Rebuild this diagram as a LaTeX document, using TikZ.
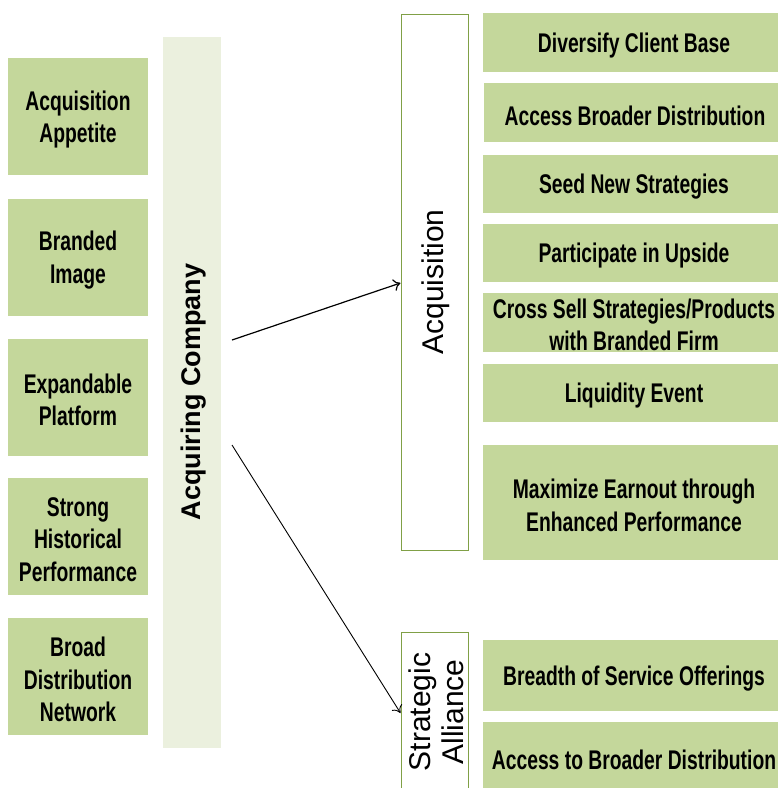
\documentclass[tikz,border=0pt]{standalone}
\usepackage{fontspec}
\setmainfont{Liberation Sans}
\newfontfamily\narrowfont{Liberation Sans}[FakeStretch=0.715]
\usetikzlibrary{arrows.meta}
\definecolor{boxgreen}{RGB}{196,215,155}
\definecolor{barfill}{RGB}{235,240,222}
\definecolor{edgegreen}{RGB}{128,160,70}
\tikzset{
  greenbox/.style={fill=boxgreen, draw=none, inner sep=0pt},
  leftbox/.style={greenbox, minimum width=140pt, minimum height=117pt},
  rightbox/.style={greenbox, minimum width=302pt},
  boxtext/.style={inner sep=0pt, align=center, yshift=-3pt,
    font=\narrowfont\bfseries\fontsize{27}{32.5}\selectfont},
  outlinebox/.style={draw=edgegreen, line width=1pt, fill=white, inner sep=0pt, minimum width=67pt},
  sidelabel/.style={rotate=90, align=center, font=\fontsize{30}{33}\selectfont},
  connector/.style={-{To[length=7pt,width=12pt]}, black},
}
\begin{document}
\begin{tikzpicture}[x=1pt, y=-1pt]
\useasboundingbox (0,0) rectangle (778,788);
\clip (0,0) rectangle (778,788);
% left column
\node[leftbox] (appetite) at (78,116.5) {};
\node[boxtext] (appetiteT) at (appetite.center) {Acquisition\\Appetite};
\node[leftbox] (image) at (78,257) {};
\node[boxtext] (imageT) at (image.center) {Branded\\Image};
\node[leftbox] (platform) at (78,397) {};
\node[boxtext] (platformT) at (platform.center) {Expandable\\Platform};
\node[leftbox] (history) at (78,536.5) {};
\node[boxtext] (historyT) at (history.center) {Strong\\Historical\\Performance};
\node[leftbox] (network) at (78,676.5) {};
\node[boxtext] (networkT) at (network.center) {Broad\\Distribution\\Network};
% acquiring company bar
\node[fill=barfill, minimum width=58pt, minimum height=711pt, inner sep=0pt] (bar) at (192,392.5) {};
\node[rotate=90, font=\bfseries\fontsize{27}{30}\selectfont] (barlabel) at (194,392) {Acquiring Company};
% outline boxes
\node[outlinebox, minimum height=536pt] (acq) at (434.5,282) {};
\node[sidelabel] (acqlabel) at (436,282) {Acquisition};
\node[outlinebox, minimum height=170pt] (alliance) at (434.5,717) {};
\node[sidelabel] (alliancelabel) at (436,712) {Strategic\\Alliance};
% right column
\node[rightbox, minimum height=59pt] (r1) at (634,42.5) {};
\node[boxtext] (r1T) at (r1.center) {Diversify Client Base};
\node[rightbox, minimum height=59pt] (r2) at (635,112.5) {};
\node[boxtext] (r2T) at (r2.center) {Access Broader Distribution};
\node[rightbox, minimum height=58pt] (r3) at (634,184) {};
\node[boxtext] (r3T) at (r3.center) {Seed New Strategies};
\node[rightbox, minimum height=58pt] (r4) at (634,253) {};
\node[boxtext] (r4T) at (r4.center) {Participate in Upside};
\node[rightbox, minimum height=59pt] (r5) at (634,322) {};
\node[boxtext] (r5T) at (r5.center) {Cross Sell Strategies/Products\\with Branded Firm};
\node[rightbox, minimum height=58pt] (r6) at (634,392.5) {};
\node[boxtext] (r6T) at (r6.center) {Liquidity Event};
\node[rightbox, minimum height=115pt] (r7) at (634,502.5) {};
\node[boxtext] (r7T) at (r7.center) {Maximize Earnout through\\Enhanced Performance};
\node[rightbox, minimum height=71pt] (r8) at (634,675.5) {};
\node[boxtext] (r8T) at (r8.center) {Breadth of Service Offerings};
\node[rightbox, minimum height=70pt] (r9) at (634,757) {};
\node[boxtext] (r9T) at (r9.center) {Access to Broader Distribution};
% connectors
\coordinate (start1) at (232,340);
\coordinate (start2) at (232,445);
\draw[connector, line width=1.2pt] (start1) -- (acq.west |- 0,283);
\draw[connector, line width=0.9pt] (start2) -- (alliance.west |- 0,713);
\end{tikzpicture}
\end{document}
